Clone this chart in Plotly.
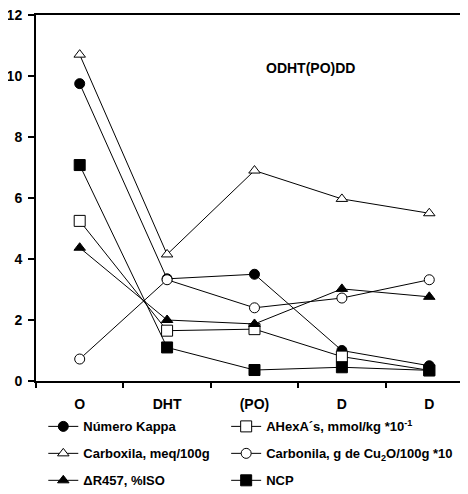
import plotly.graph_objects as go

stages = ["O", "DHT", "(PO)", "D", "D"]
kappa = [9.75, 3.35, 3.5, 1.0, 0.5]
hexa = [5.25, 1.65, 1.7, 0.8, 0.35]
carboxila = [10.7, 4.15, 6.9, 5.97, 5.5]
carbonila = [0.72, 3.32, 2.4, 2.72, 3.32]
dr457 = [4.37, 2.0, 1.87, 3.02, 2.76]
ncp = [7.08, 1.1, 0.36, 0.45, 0.35]

x = list(range(len(stages)))
FONT = "Liberation Sans, Arial, sans-serif"

# (name, values, symbol, fill, size, legend row, legend column)
series = [
    ("Número Kappa", kappa, "circle", "black", 10, 0, 0),
    ("AHexA´s, mmol/kg *10<sup>-1</sup>", hexa, "square", "white", 11, 0, 1),
    ("Carboxila, meq/100g", carboxila, "triangle-up", "white", 10, 1, 0),
    ("Carbonila, g de Cu<sub>2</sub>O/100g *10", carbonila, "circle", "white", 10, 1, 1),
    ("ΔR457, %ISO", dr457, "triangle-up", "black", 10, 2, 0),
    ("NCP", ncp, "square", "black", 11, 2, 1),
]

# figure is drawn with an 8px page margin, so work in figure coordinates
W, H = 460, 486
L, T, B = 27.7, 7, 373.5
PW, PH = W - L, B - T

row_y = [419, 446, 473]
col_x = [35, 218]

fig = go.Figure()
legends = {}
for i, (name, vals, sym, fill, size, r, c) in enumerate(series):
    key = "legend" if i == 0 else f"legend{i+1}"
    fig.add_trace(go.Scatter(
        x=x, y=vals, name=name, mode="lines+markers",
        line=dict(color="black", width=1),
        marker=dict(symbol=sym, size=size, color=fill, line=dict(color="black", width=1)),
        legend=key,
    ))
    legends[key] = dict(
        orientation="h", x=(col_x[c] - L) / PW, xanchor="left",
        y=(B - row_y[r]) / PH, yanchor="middle",
        font=dict(family=FONT, size=13, color="black", weight="bold"),
        bgcolor="rgba(0,0,0,0)", itemclick=False, itemdoubleclick=False,
    )

fig.update_layout(
    width=W, height=H,
    margin=dict(l=L, r=0, t=T, b=H - B, autoexpand=False),
    paper_bgcolor="white", plot_bgcolor="white",
    showlegend=True,
    **legends,
    xaxis=dict(
        range=[-0.5, 4.443], tickmode="array", tickvals=x, ticktext=stages,
        ticks="", showgrid=False, zeroline=False,
        showline=True, linecolor="black", linewidth=2, mirror=True,
        tickfont=dict(family=FONT, size=14, color="black", weight="bold"),
        ticklabelstandoff=9, ticklabeloverflow="allow",
        minor=dict(tickmode="array", tickvals=[-0.5, 0.5, 1.5, 2.5, 3.5],
                   ticks="outside", ticklen=5, tickcolor="black", tickwidth=1.5, showgrid=False),
    ),
    yaxis=dict(
        range=[0, 12], tickmode="array", tickvals=[0, 2, 4, 6, 8, 10, 12],
        ticks="outside", ticklen=6, tickcolor="black", tickwidth=1.5,
        showgrid=False, zeroline=False,
        showline=True, linecolor="black", linewidth=2,
        tickfont=dict(family=FONT, size=14, color="black", weight="bold"),
        ticklabelstandoff=3, ticklabeloverflow="allow",
    ),
    annotations=[dict(
        text="ODHT(PO)DD", x=0.635, y=0.855, xref="paper", yref="paper",
        xanchor="center", yanchor="middle",
        showarrow=False, font=dict(family=FONT, size=14, color="black", weight="bold"),
    )],
)

fig.write_html("out.html")
